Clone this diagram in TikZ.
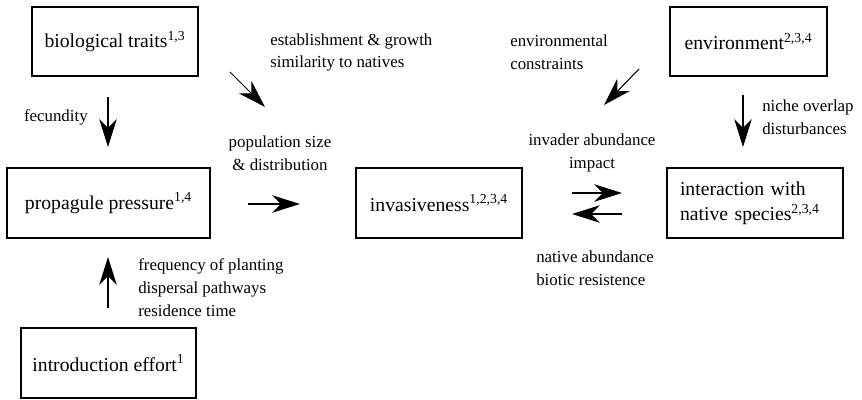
\documentclass[tikz,border=0pt]{standalone}
\usepackage{fontspec}
\setmainfont{Liberation Serif}
\usetikzlibrary{arrows.meta}
\begin{document}
\begin{tikzpicture}[box/.style={draw,line width=.8pt,inner sep=0pt,minimum height=1.75cm,font=\fontsize{14}{18}\selectfont},
  lbl/.style={inner sep=0pt,align=left,font=\fontsize{12}{16.3}\selectfont},
  arr/.style={line width=.75pt,-{Stealth[length=.7cm,width=.44cm,inset=.22cm]}}]
\useasboundingbox (0,0) rectangle (21.55,9.975);
\node[box,minimum width=4.15cm,minimum height=1.725cm] (traits) at (2.875,8.9375) {biological traits\textsuperscript{1,3}};
\node[box,minimum width=5.075cm] (propagule) at (2.7125,4.9) {propagule pressure\textsuperscript{1,4}};
\node[box,minimum width=4.375cm] (intro) at (2.7125,0.9) {introduction effort\textsuperscript{1}};
\node[box,minimum width=4.15cm] (invasive) at (10.975,4.9) {invasiveness\textsuperscript{1,2,3,4}};
\node[box,minimum width=3.925cm,minimum height=1.725cm] (environ) at (18.7125,8.9375) {environment\textsuperscript{2,3,4}};
\node[box,text width=3.75cm,inner xsep=.325cm,align=left] (interact) at (18.875,4.9) {interaction with\\native species\textsuperscript{2,3,4}};
% labels
\node[lbl,anchor=east] (fecund) at (2.2,7.05) {fecundity};
\node[lbl,anchor=west] (establish) at (6.75,8.6625) {establishment \& growth\\similarity to natives};
\node[lbl,anchor=west] (constr) at (12.75,8.6625) {environmental\\constraints};
\node[lbl,align=center] (popsize) at (7.0,6.15) {population size\\\& distribution};
\node[lbl,align=center] (invabund) at (14.8,6.15) {invader abundance\\impact};
\node[lbl,anchor=west] (natabund) at (13.4,3.275) {native abundance\\biotic resistence};
\node[lbl,anchor=west] (niche) at (19.05,7.05) {niche overlap\\disturbances};
\node[lbl,anchor=west] (freq) at (3.45,2.775) {frequency of planting\\dispersal pathways\\residence time};
% arrows
\coordinate (fecA) at (2.7,7.55);   \coordinate (fecB) at (2.7,6.3);
\coordinate (estA) at (5.75,8.175); \coordinate (estB) at (6.625,7.3);
\coordinate (conA) at (15.975,8.25);\coordinate (conB) at (15.1,7.35);
\coordinate (nicA) at (18.575,7.6); \coordinate (nicB) at (18.575,6.3);
\coordinate (popA) at (6.2,4.875);  \coordinate (popB) at (7.5,4.875);
\coordinate (invA) at (14.3,5.15);  \coordinate (invB) at (15.55,5.15);
\coordinate (natA) at (15.55,4.625);\coordinate (natB) at (14.3,4.625);
\coordinate (frqA) at (2.7,2.275);  \coordinate (frqB) at (2.7,3.55);
\draw[arr] (fecA) -- (fecB);
\draw[arr] (estA) -- (estB);
\draw[arr] (conA) -- (conB);
\draw[arr] (nicA) -- (nicB);
\draw[arr] (popA) -- (popB);
\draw[arr] (invA) -- (invB);
\draw[arr] (natA) -- (natB);
\draw[arr] (frqA) -- (frqB);
\end{tikzpicture}
\end{document}
